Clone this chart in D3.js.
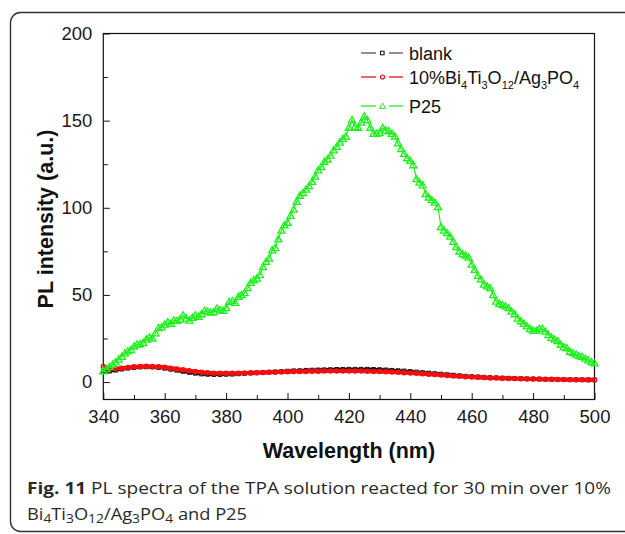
<!DOCTYPE html>
<html><head><meta charset="utf-8">
<script src="https://cdn.jsdelivr.net/npm/d3@7"></script>
<style>body{margin:0;background:#fff}svg{display:block}</style>
</head><body><svg id="c" width="625" height="534"></svg>
<script>
const xTicks = [340,360,380,400,420,440,460,480,500];
const yTicks = [0,50,100,150,200];
const seriesNames = ["blank","10%Bi4Ti3O12/Ag3PO4","P25"];
const wlSmooth = d3.range(340, 501, 2);
const blankVals = [6.0,6.2,6.8,7.4,7.9,8.3,8.6,8.7,8.6,8.3,7.9,7.3,6.7,6.1,5.5,5.0,4.6,4.4,4.3,4.3,4.4,4.5,4.7,4.9,5.1,5.3,5.5,5.7,5.9,6.1,6.3,6.5,6.6,6.8,6.9,7.0,7.1,7.2,7.3,7.3,7.4,7.4,7.4,7.4,7.3,7.2,7.0,6.8,6.6,6.4,6.1,5.8,5.5,5.2,4.9,4.6,4.3,4.0,3.7,3.4,3.2,3.0,2.8,2.6,2.5,2.3,2.2,2.1,2.0,1.9,1.8,1.7,1.6,1.5,1.5,1.4,1.4,1.3,1.3,1.2,1.2];
const compVals = [9.0,7.6,7.7,8.0,8.4,8.8,9.0,9.1,9.0,8.8,8.5,8.0,7.5,7.0,6.5,6.0,5.6,5.3,5.1,5.0,5.0,5.0,5.1,5.2,5.3,5.4,5.5,5.6,5.7,5.8,5.9,6.0,6.1,6.1,6.2,6.2,6.3,6.3,6.3,6.3,6.3,6.3,6.3,6.2,6.1,6.0,5.9,5.8,5.6,5.4,5.2,5.0,4.8,4.5,4.3,4.0,3.8,3.5,3.3,3.1,2.9,2.7,2.6,2.4,2.3,2.2,2.1,2.0,1.9,1.8,1.8,1.7,1.6,1.6,1.5,1.5,1.4,1.4,1.3,1.3,1.3];
const wlP25 = d3.range(340, 501, 1);
const p25Vals = [6.3,7.5,8.8,10,11.4,13,14.5,16.5,17.7,18.5,20.5,21.6,21.8,22.5,24.5,25.6,25,28,31,31.5,
33,34.4,33.5,35.4,35.2,36,38.3,36.5,35.4,37,38.3,37.5,39,40.9,40.5,40,40.3,42.3,41.5,40.9,
42.5,46,46.5,45.5,49,50,51.1,54,57,58.5,59.5,61.5,66,69,71,75.7,77,82,87,90,
91.5,95.5,99,103.5,107,108.5,110.5,112.5,115,118,121.5,123.5,126.5,127.8,130,133,135,137.5,139.6,141,
146,150.4,146.5,146,149,152.4,150.4,146,142.5,142.5,143,145.9,144.5,144,142.5,141,137,133.7,131,128.5,
127,124.5,116.5,114.5,113,108,106,104.5,103,100.5,89,87,85.5,83.5,80.5,77.6,75,73.5,72.7,71.5,
67.5,64.5,61,59,56,55,54,50,46.2,45,44.2,43.5,42.5,40.5,39,36.5,35,33.5,32,30.5,
29.5,29.5,30.5,30.5,29,27,25.5,24.5,23.6,21.5,20,19.5,17.5,16.7,15.8,15,14.5,13.5,12.5,11.5,10.8];

const svg = d3.select("#c");
const L=103.3, R=594.5, T=33.5, B=399.5;
const x = d3.scaleLinear().domain([340,500]).range([L,R]);
const y = d3.scaleLinear().domain([-10,200]).range([B,T]);

// outer frame
svg.append("rect").attr("x",10.5).attr("y",12.5).attr("width",640).attr("height",519)
  .attr("rx",10).attr("fill","none").attr("stroke","#333").attr("stroke-width",1.4);

const axisFont = "'Liberation Sans', Arial, sans-serif";
const gx = svg.append("g").attr("transform",`translate(0,${B})`)
  .call(d3.axisBottom(x).tickValues(d3.range(340,501,10)).tickSize(-6).tickPadding(11)
    .tickFormat(d => xTicks.includes(d) ? d : ""));
const gy = svg.append("g").attr("transform",`translate(${L},0)`)
  .call(d3.axisLeft(y).tickValues(d3.range(0,201,25)).tickSize(-6).tickPadding(11)
    .tickFormat(d => yTicks.includes(d) ? d : ""));
[gx,gy].forEach(g=>{
  g.select(".domain").remove();
  g.selectAll("line").attr("stroke","#111").attr("stroke-width",1);
  g.selectAll("text").attr("font-family",axisFont).attr("font-size","18.5px").attr("fill","#1a1a1a");
});
gx.selectAll(".tick line").attr("y2", d => xTicks.includes(d) ? -6.5 : -4.5);
gy.selectAll(".tick line").attr("x2", d => yTicks.includes(d) ? 6.5 : 4.5);
gx.selectAll("text").attr("dy","0.71em").attr("y",10);
svg.append("rect").attr("x",L).attr("y",T).attr("width",R-L).attr("height",B-T)
  .attr("fill","none").attr("stroke","#111").attr("stroke-width",1.2);

svg.append("text").attr("x",(L+R)/2).attr("y",458).attr("text-anchor","middle")
  .attr("font-family",axisFont).attr("font-weight","bold").attr("font-size","21.5px").attr("fill","#111")
  .text("Wavelength (nm)");
svg.append("text").attr("transform","translate(53,219) rotate(-90)").attr("text-anchor","middle")
  .attr("font-family",axisFont).attr("font-weight","bold").attr("font-size","21.5px").attr("fill","#111")
  .text("PL intensity (a.u.)");

const plot = svg.append("g");
const line = d3.line().x(d=>x(d[0])).y(d=>y(d[1]));
const blank = wlSmooth.map((w,i)=>[w,blankVals[i]]);
const comp = wlSmooth.map((w,i)=>[w,compVals[i]]);
const p25 = wlP25.map((w,i)=>[w,p25Vals[i]]);
const colors = ["#111111","#f01010","#1ef01e"];

plot.append("path").datum(blank).attr("d",line.curve(d3.curveMonotoneX)).attr("fill","none").attr("stroke",colors[0]).attr("stroke-width",3);
plot.selectAll(".sq").data(blank).join("rect").attr("x",d=>x(d[0])-1.8).attr("y",d=>y(d[1])-1.8)
  .attr("width",3.6).attr("height",3.6).attr("fill","none").attr("stroke",colors[0]).attr("stroke-width",1);
plot.append("path").datum(comp).attr("d",line.curve(d3.curveMonotoneX)).attr("fill","none").attr("stroke",colors[1]).attr("stroke-width",4);
plot.selectAll(".ci").data(comp).join("circle").attr("cx",d=>x(d[0])).attr("cy",d=>y(d[1])).attr("r",2.1)
  .attr("fill","none").attr("stroke",colors[1]).attr("stroke-width",1.3);
const tri = d3.symbol().type(d3.symbolTriangle).size(22);
plot.append("path").datum(p25).attr("d",line.curve(d3.curveLinear)).attr("fill","none").attr("stroke",colors[2]).attr("stroke-width",1.2);
plot.selectAll(".tr").data(p25).join("path").attr("d",tri)
  .attr("transform",d=>`translate(${x(d[0])},${y(d[1])+0.6})`)
  .attr("fill","none").attr("stroke",colors[2]).attr("stroke-width",1.3);

const legY = [53,77,106];
const lg = svg.append("g").attr("font-family",axisFont).attr("font-size","18px").attr("fill","#111");
legY.forEach((ly,i)=>{
  const lc = i===0 ? "#555" : colors[i];
  lg.append("line").attr("x1",361).attr("x2",376).attr("y1",ly).attr("y2",ly).attr("stroke",lc).attr("stroke-width",1.3);
  lg.append("line").attr("x1",389).attr("x2",403).attr("y1",ly).attr("y2",ly).attr("stroke",lc).attr("stroke-width",1.3);
  if(i===0) lg.append("rect").attr("x",380.5).attr("y",ly-1.8).attr("width",3.6).attr("height",3.6).attr("fill","none").attr("stroke",colors[0]);
  if(i===1) lg.append("circle").attr("cx",382.5).attr("cy",ly).attr("r",2).attr("fill","none").attr("stroke",colors[1]).attr("stroke-width",1.2);
  if(i===2) lg.append("path").attr("d",d3.symbol().type(d3.symbolTriangle).size(16)).attr("transform",`translate(382.5,${ly+0.6})`).attr("fill","none").attr("stroke",colors[2]);
});
lg.append("text").attr("x",409).attr("y",legY[0]+6.5).text(seriesNames[0]);
const t2 = lg.append("text").attr("x",409).attr("y",legY[1]+6.5);
const parts = [["10%Bi",0],["4",1],["Ti",0],["3",1],["O",0],["12",1],["/Ag",0],["3",1],["PO",0],["4",1]];
parts.forEach(([s,sub],i)=>{
  const prevSub = i>0 ? parts[i-1][1] : 0;
  t2.append("tspan").attr("font-size",sub?"11px":"18px").attr("dy", sub && !prevSub ? 5 : (!sub && prevSub ? -5 : 0)).text(s);
});
lg.append("text").attr("x",409).attr("y",legY[2]+6.5).text(seriesNames[2]);

const capFont = "'Open Sans', 'Noto Sans', sans-serif";
const c1 = svg.append("text").attr("x",27).attr("y",494).attr("font-family",capFont).attr("font-size","16.5px").attr("fill","#2a2a2a")
  .attr("textLength",584).attr("lengthAdjust","spacingAndGlyphs");
c1.append("tspan").attr("font-weight","bold").text("Fig. 11");
c1.append("tspan").text(" PL spectra of the TPA solution reacted for 30 min over 10%");
const c2 = svg.append("text").attr("x",27).attr("y",520).attr("font-family",capFont).attr("font-size","16.5px").attr("fill","#2a2a2a")
  .attr("textLength",220).attr("lengthAdjust","spacingAndGlyphs");
const cparts = [["Bi",0],["4",1],["Ti",0],["3",1],["O",0],["12",1],["/Ag",0],["3",1],["PO",0],["4",1],[" and P25",0]];
cparts.forEach(([s,sub],i)=>{
  const prevSub = i>0 ? cparts[i-1][1] : 0;
  c2.append("tspan").attr("font-size",sub?"12.5px":"16.5px").attr("dy", sub && !prevSub ? 3 : (!sub && prevSub ? -3 : 0)).text(s);
});
</script></body></html>
